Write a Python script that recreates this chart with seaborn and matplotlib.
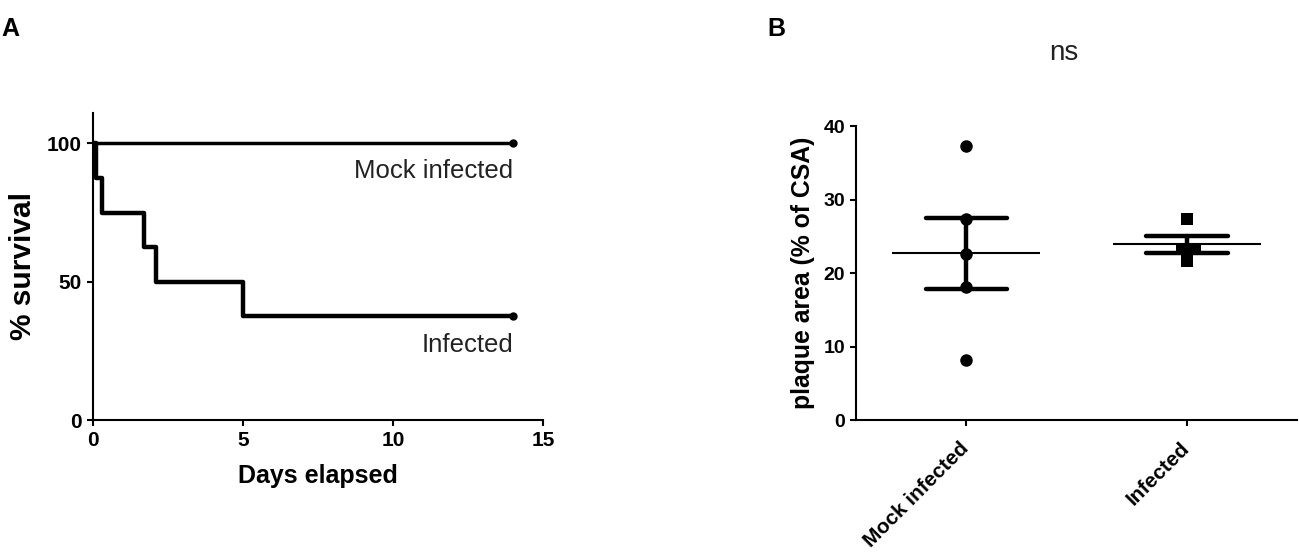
import numpy as np
import pandas as pd
import seaborn as sns
import matplotlib.pyplot as plt

# %%
# panel A - survival curves (Kaplan-Meier steps)
mock_days = [0, 14]
mock_surv = [100, 100]
inf_days = [0, 0.1, 0.3, 1.7, 2.1, 5.0, 14]
inf_surv = [100, 87.5, 75, 62.5, 50, 37.5, 37.5]

# panel B - plaque area
groups = ['Mock infected', 'Infected']
mock_plaque = [37.3, 27.4, 22.6, 18.1, 8.1]
inf_plaque = [27.3, 23.3, 23.3, 21.7]

# %%
sns.set_theme(style='ticks')
plt.rcParams['font.family'] = ['Liberation Sans', 'DejaVu Sans']
plt.rcParams['axes.linewidth'] = 1.5
plt.rcParams['xtick.major.width'] = 1.5
plt.rcParams['ytick.major.width'] = 1.5
plt.rcParams['xtick.major.size'] = 4.5
plt.rcParams['ytick.major.size'] = 4.5
plt.rcParams['xtick.color'] = 'black'
plt.rcParams['ytick.color'] = 'black'
plt.rcParams['axes.edgecolor'] = 'black'
plt.rcParams['axes.labelcolor'] = 'black'
plt.rcParams['text.color'] = 'black'

surv_df = pd.concat([
    pd.DataFrame({'day': mock_days, 'surv': mock_surv, 'group': 'Mock infected'}),
    pd.DataFrame({'day': inf_days, 'surv': inf_surv, 'group': 'Infected'}),
])
plaque_df = pd.concat([
    pd.DataFrame({'group': 'Mock infected', 'area': mock_plaque}),
    pd.DataFrame({'group': 'Infected', 'area': inf_plaque}),
])

fig = plt.figure(figsize=(12.99, 5.53), dpi=100)
ax1 = fig.add_axes([0.0716, 0.2405, 0.3464, 0.5552])
ax2 = fig.add_axes([0.659, 0.2405, 0.3395, 0.5315])

# %%
# A
for g, lw in [('Mock infected', 2.5), ('Infected', 3.2)]:
    d = surv_df[surv_df.group == g]
    sns.lineplot(data=d, x='day', y='surv', ax=ax1, color='black', lw=lw,
                 drawstyle='steps-post', estimator=None, legend=False)
    ax1.plot(d.day.iloc[-1], d.surv.iloc[-1], 'o', color='black', ms=5)

ax1.set_xlim(0, 15)
ax1.set_ylim(0, 111)
ax1.set_xticks([0, 5, 10, 15])
ax1.set_yticks([0, 50, 100])
ax1.spines[['top', 'right']].set_visible(False)
ax1.tick_params(labelsize=15)
for t in ax1.get_xticklabels() + ax1.get_yticklabels():
    t.set_fontweight('bold')
ax1.set_xlabel('Days elapsed', fontsize=18, fontweight='bold', labelpad=10)
ax1.set_ylabel('% survival', fontsize=21.5, fontweight='bold', labelpad=7)
ax1.text(14, 90, 'Mock infected', ha='right', va='center', fontsize=18.5, color='#222222')
ax1.text(14, 27, 'Infected', ha='right', va='center', fontsize=18.5, color='#222222')

# %%
# B
sns.swarmplot(data=plaque_df[plaque_df.group == 'Mock infected'], x='group', y='area',
              order=groups, ax=ax2, color='black', marker='o', size=9)
sns.swarmplot(data=plaque_df[plaque_df.group == 'Infected'], x='group', y='area',
              order=groups, ax=ax2, color='black', marker='s', size=9)
sns.pointplot(data=plaque_df, x='group', y='area', order=groups, ax=ax2,
              estimator='mean', errorbar='se', capsize=0.37, color='black',
              markers='', linestyle='none', err_kws={'linewidth': 3.2})
means = plaque_df.groupby('group')['area'].mean()
for i, g in enumerate(groups):
    ax2.hlines(means[g], i - 0.335, i + 0.335, color='black', lw=1.5, zorder=4)

ax2.set_xlim(-0.5, 1.5)
ax2.set_ylim(0, 40)
ax2.set_yticks([0, 10, 20, 30, 40])
ax2.spines[['top', 'right']].set_visible(False)
ax2.tick_params(axis='y', labelsize=14)
ax2.tick_params(axis='x', labelsize=15, pad=14)
ax2.set_xticks([0, 1])
ax2.set_xticklabels(groups, rotation=45, ha='right', va='center', rotation_mode='anchor')
for t in ax2.get_xticklabels() + ax2.get_yticklabels():
    t.set_fontweight('bold')
ax2.set_xlabel('')
ax2.set_ylabel('plaque area (% of CSA)', fontsize=17.8, fontweight='bold', labelpad=6)
ax2.text(0.472, 1.25, 'ns', transform=ax2.transAxes, ha='center', va='center',
         fontsize=20, color='#222222')

fig.text(0.001, 0.97, 'A', fontsize=18, fontweight='bold', va='top')
fig.text(0.591, 0.97, 'B', fontsize=18, fontweight='bold', va='top')

fig.savefig('out.png', dpi=100)
